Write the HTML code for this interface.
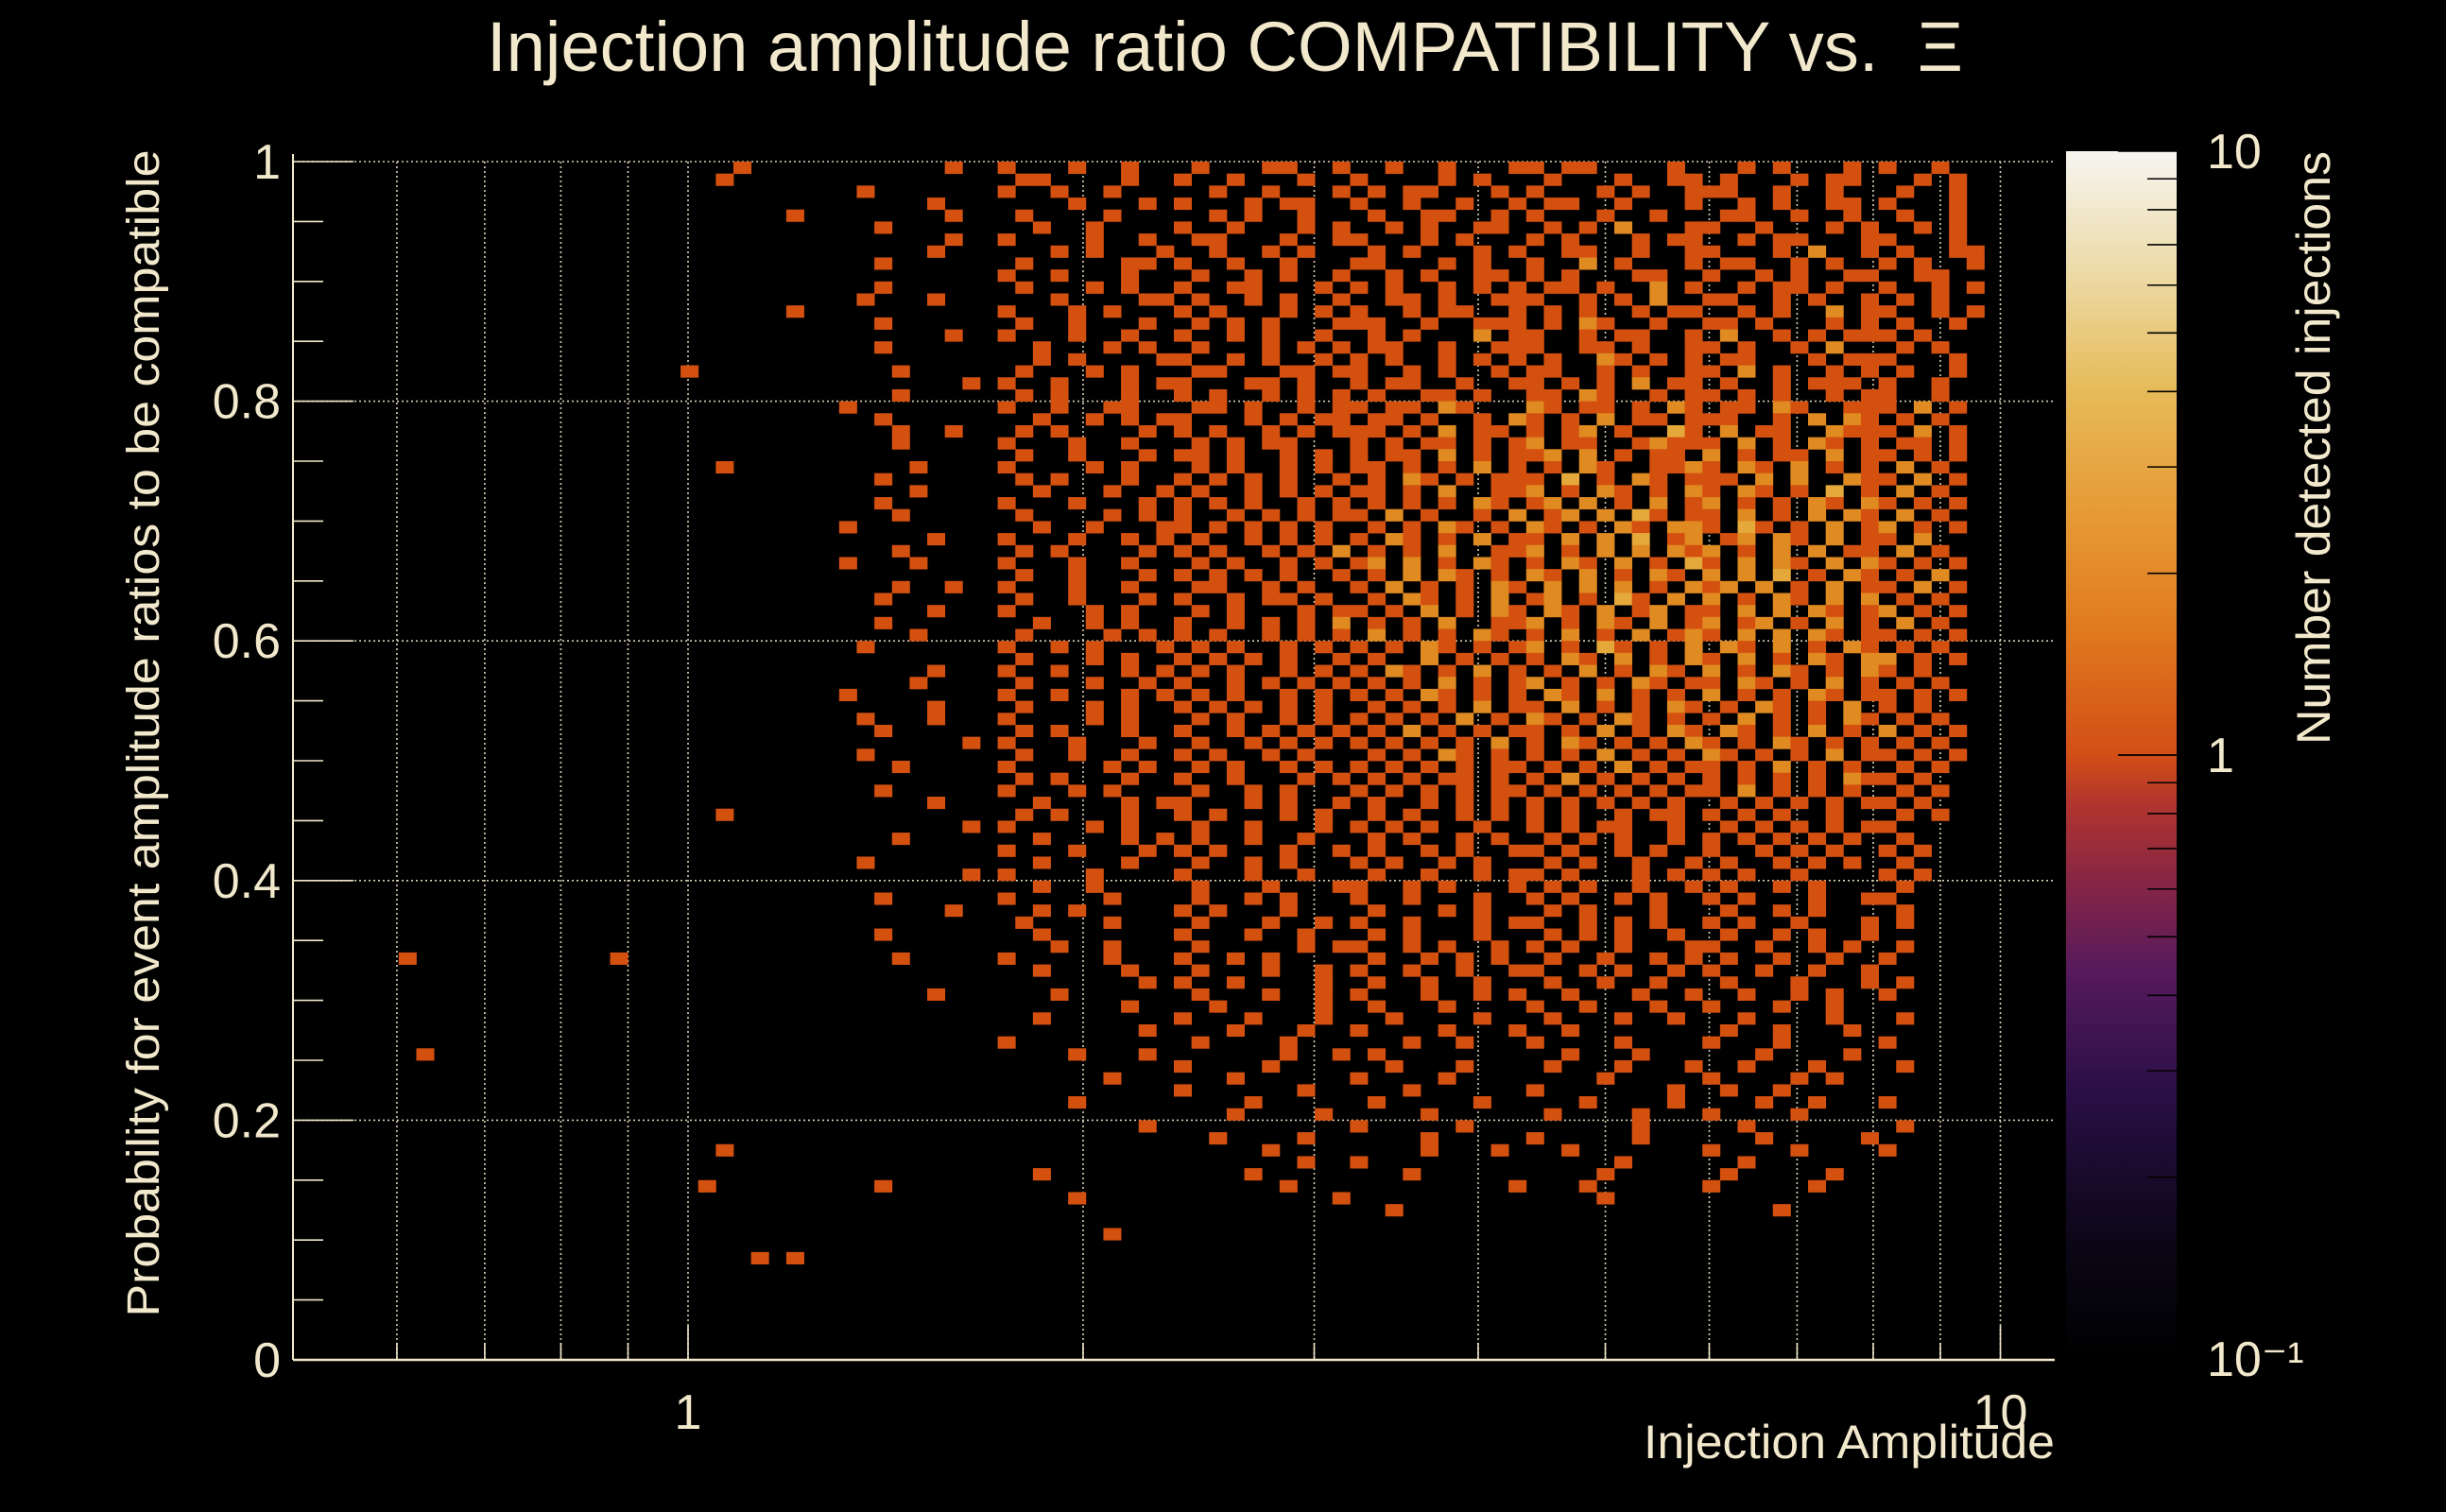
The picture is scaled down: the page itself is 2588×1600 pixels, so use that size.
<!DOCTYPE html>
<html><head><meta charset="utf-8">
<style>
html,body{margin:0;padding:0;background:#000;}
svg{display:block;}
text{font-family:"Liberation Sans",sans-serif;fill:#f2e8cc;}
</style></head>
<body>
<svg id="chart" width="2588" height="1600" viewBox="0 0 2588 1600" xmlns="http://www.w3.org/2000/svg">
<defs>
<linearGradient id="cmap" x1="0" y1="1" x2="0" y2="0">
<stop offset="0" stop-color="#000000"/>
<stop offset="0.1" stop-color="#0c0718"/>
<stop offset="0.22" stop-color="#2a0f46"/>
<stop offset="0.32" stop-color="#561a5c"/>
<stop offset="0.4" stop-color="#8a2643"/>
<stop offset="0.46" stop-color="#b2352e"/>
<stop offset="0.5" stop-color="#d24e16"/>
<stop offset="0.6" stop-color="#e0781e"/>
<stop offset="0.7" stop-color="#e69a35"/>
<stop offset="0.8" stop-color="#e6ba58"/>
<stop offset="0.9" stop-color="#ecdba6"/>
<stop offset="1" stop-color="#f6f5f0"/>
</linearGradient>
</defs>
<g id="grid"></g>
<g id="cells"></g>
<g id="axes"></g>
<text x="515" y="75" font-size="74" textLength="1562" lengthAdjust="spacingAndGlyphs">Injection amplitude ratio COMPATIBILITY vs.&#160; Ξ</text>
<text transform="translate(168,776) rotate(-90)" text-anchor="middle" font-size="48" textLength="1235" lengthAdjust="spacingAndGlyphs">Probability for event amplitude ratios to be compatible</text>
<text x="2174" y="1543" text-anchor="end" font-size="50" textLength="435" lengthAdjust="spacingAndGlyphs">Injection Amplitude</text>
<rect x="2186" y="160" width="117" height="1278" fill="url(#cmap)"/>
<g id="cbar"></g>
<text transform="translate(2465,160) rotate(-90)" text-anchor="end" font-size="50" textLength="628" lengthAdjust="spacingAndGlyphs">Number detected injections</text>
</svg>
<script>
// ---- data ----
const yTickValues = [0, 0.2, 0.4, 0.6, 0.8, 1];
const yTickLabels = ["0", "0.2", "0.4", "0.6", "0.8", "1"];
const xTickValues = [1, 10];
const xTickLabels = ["1", "10"];
const xGridValues = [0.6,0.7,0.8,0.9,1,2,3,4,5,6,7,8,9,10];
const xRange = [0.5, 11];
const yRange = [0, 1];
const nBinsX = 100;
const nBinsY = 100;
const countColors = ["#000000","#d4500f","#e08a22","#e5a83a","#e3bf62","#eedb9c"];
// rows listed from top (y 0.99-1.00) to bottom; '.'=0, digit=count; spaces ignored
const binRows = [
".......... .......... .....1.... .......1.. 1...1..1.. .1...11..1 ..1..1...1 1.11....1. ..1.1...1. 1..1......",
".......... .......... ....1..... .......... .11....1.. 1..1...1.. 1....1.1.. .1...1..11 .1...1.11. ..1.1.....",
".......... .......... .......... ..1....... 1..1..1... ..1..1...1 .1.11...1. 1...1.1..1 11..1..1.. .1..1.....",
".......... .......... .......... ......1... ....1...1. 1...1.11.. 1..1..1..1 .11..1...1 ..1.1..11. 1...1.....",
".......... .......... ........1. .......1.. .1....1... ..1.1..1.. .1..11..1. 1...1..1.. .11..1..1. .1..1.....",
".......... .......... .......... ...1...... ..1..1.... 1..1...1.1 ..1.1..11. .1.1.2...1 1..1...1.1 ..1.1.....",
".......... .......... .......... .......1.. 1....1..1. .11...1..1 1...1.1... 1.1...1.11 ..1.11...1 1...1.....",
".......... .......... .......... ......1... ...1.1...1 ..1..1.1.. .1.1...1.1 ..11..1..1 1...1.2..1 .1..11....",
".......... .......... .......... ...1...... .1.....11. 1..1..1... 11...1.1.. 1..2.1...1 .11..1.1.. 1.1..1....",
".......... .......... .......... .......... 1..1...1.. .1..1.1..1 ..1.1..11. 1.1...11.. 1..1.1..11 ..11......",
".......... .......... .......... ...1...... .1...1.1.. 1..11...1. 1.1..1.1.1 .11.1..2.1 ..1.11.1.. 1..1.1....",
".......... .......... .......... ..1...1... ...1....11 .1..1.1..1 ..11.1..11 1..1.1.2.. 11..1.1..1 .1.1......",
".......... .......... ........1. .......... 1...1.1... 1.1...1.1. 1..1.11..1 .1.1..1.11 ..1.1..2.1 1..1.1....",
".......... .......... .......... ...1...... .1..1...1. .1.1.1...1 11..1..111 .1.21..1.. 11.1...1.1 .1..1.....",
".......... .......... .......... .......1.. 1...1..1.. 1..1.1..1. .1.1...2.1 1..1.11..1 .2..1.1.11 1.1.......",
".......... .......... .......... ...1...... ..1...1.1. .1...1.1.1 .11..1..11 1..11.1..1 1.1..1.2.. .1.1......",
".......... .......... .......... .......... ..1.1....1 1..1.1..1. 1.1..1.1.1 .1..21.1.1 .11...1.11 1...1.....",
".......... .......... ..1....... ....1..... .1...1.1.. .11...11.1 1..1.1..1. 11..1.1..1 1.2.1..1.1 .1..1.....",
".......... .......... .......... ........1. 1..1...1.1 1...11.1.. 1.11..1..1 1.1.1.2.11 .1..1.111. 1..1......",
".......... .......... .......... ....1..... .1.1...1.. 1.1..1.1.1 .1..11.1.. 11.21..1.1 1.1.1..1.1 1..1......",
".......... .......... .......... .1........ 1..1..11.. .11.1..1.1 1.11.21... 21.11.1.21 .11.21..11 1.2.1.....",
".......... .......... .......... ...1...... ..1..1.1.1 1...1.1.11 .11.1..1.2 1.1.2.11.1 11..1.2.21 .1.1......",
".......... .......... .......... ....1..1.. .1.1....1. 1.1..1.1.1 11.1.2.11. 1.12.1..31 .2.11..211 1.2.1.....",
".......... .......... .......... ....1..... 1...1..1.. .1.1.11... 1.1.11.1.1 2.11..1211 1.2.1.21.1 .11.1.....",
".......... .......... .......... .......... .1..1...1. 11.1..1.1. 1.11.2.1.1 12.2.1.11. 2.1.11.2.1 1.1.1.....",
".......... .......... ....1..... .....1.... 1....1.1.. .1.1..1.1. 11.1.1.2.1 .1.21..112 1.21.2.1.1 .2.1......",
".......... .......... .......... ...1...... .1.1...1.. 1.1.1.1..1 .1.21.1.11 1.3.1.21.1 11.2.2..21 1.2.1.....",
".......... .......... .......... .....1.... ..1...1..1 .1..1.1.1. 11.1.2..11 2.1.21.1.2 1.21.1.3.1 .2.1......",
".......... .......... .......... ...1...... 1...1...1. 1.1.1..1.1 .1.1.1.21. 12.2.1.2.1 2.1.1.21.2 1.1.1.....",
".......... .......... .......... ....1..... .1....1.1. 1..1.1.1.1 1.2.1..1.2 .12.2.31.1 1.2.1.2.21 .2.1......",
".......... .......... .......... .1........ ..1..1...1 1.1.1.1.1. .1.1.21.1. 21.1.21.22 1.31.1.2.1 2.1.1.....",
".......... .......... .......... ......1... 1...1..1.1 .1..1.1.1. 1.21.1.2.1 1.2.2.3.12 .12.21.2.1 1.2.......",
".......... .......... .......... ....1..... .1.1....1. 1.1..1.1.2 .1.1.2..11 2.1.2.2.21 2.1.2.2.11 .2.1......",
".......... .......... .......... .1...1.... 1...1..1.. .1.1..1.1. 12.2.1.21. 1.21.2.1.3 1.2.21.2.2 1.1.1.....",
".......... .......... .......... .......... .1..1...1. 1.1.1.1..1 .1.2.21.1. 21.2.1.21. 2.2.3.1.21 .1.2......",
".......... .......... .......... ....1..1.. 1...1..1.. .11..1.1.. 1.2.1.1.21 .2.2.2.1.2 12.2.1.2.1 1.2.1.....",
".......... .......... .......... ...1...... .1..1...1. 1..1.11.1. .1.21.1.2. 12.1.31.2. 2.1.21.2.2 .1.1......",
".......... .......... .......... ......1... 1....1.1.. .1.1...1.1 1.1.2.1.21 .21.2.12.1 1.2.2.21.1 2.1.1.....",
".......... .......... .......... ...1...... ..1..1.1.. 1..1.1.1.2 .1.1.2..11 2.1.21.2.1 2.12.1.2.1 .2.1......",
".......... .......... .......... .....1.... .1....1.1. 1.1..1.1.1 .2.1.1.21. 1.2.1.2.12 1.2.2.21.1 1.1.1.....",
".......... .......... .......... ..1....... 1..1.1...1 .1.1..1.1. 1.1.21.1.1 2.1.31.1.2 .21.2.1.21 .1.1......",
".......... .......... .......... .......... .1...1.1.. 1.1.1.1..1 .1..2.1.1. 1.21.2.1.2 1.2.1.21.2 2.1.1.....",
".......... .......... .......... ......1... 1..1...1.1 .1.1..1.1. 1.21.1.2.1 .1.2.1.21. 2.1.21.1.2 1.1.......",
".......... .......... .......... .....1.... .1...1..1. 1..1.1.1.1 .1.1.2.1.1 2.1.1.21.1 1.21.1.2.1 .1.1......",
".......... .......... .......... .1........ 1..1...1.1 .1.1..1.1. 1.1.21.1.1 .21.2.1.1. 2.1.1.21.1 1.1.1.....",
".......... .......... .......... ......1... .1...1.1.. 1.1.1.1.1. .1.1.1.2.1 1.2.1.1.21 .1.21.1.2. 1.1.......",
".......... .......... .......... ..1...1... 1....1.1.. .1.1..1.1. 1.1.1.2.1. 21.1.21.1. 1.2.1.1.21 .1.1......",
".......... .......... .......... ...1...... .1.1...1.. 1..1.1.1.1 .1.2.1.1.1 1.1.2.1.21 .21.1.2.1. 2.1.1.....",
".......... .......... .......... ........1. 1...1...1. .1..1.1.1. 1.1.1.1.2. 1.21.1.1.2 1.1.21.1.1 .1.1......",
".......... .......... .......... ..1....... .1..1..1.. 1.1..1.1.. .1.1.21.1. 1.1.2.1.1. 21.1.1.2.1 1.1.1.....",
".......... .......... .......... ....1..... 1.....1.1. .1.1..1.1. 1.1.1.1.11 .1.1.2.1.1 1.1.2.1.1. .1.1......",
".......... .......... .......... .......... .1.1...1.. 1..1...1.1 .1.1.11.1. 1.2.1.1.1. 1.1.1.1.21 1.1.......",
".......... .......... .......... ...1...... 1...1.1... .1..1.1... 1.1.1.1.11 .1.1.1.1.1 1.2.1.1.1. .1.1......",
".......... .......... .......... ......1... ..1....1.1 1...1.1..1 .1..1.1.1. 1.1.1.1.1. .1.1.1.1.1 1.1.......",
".......... .......... ....1..... .......... .1.1...1.. 1.1...1.1. .1.1..1.1. 1.1..1.11. 1.1.1..1.. .1.1......",
".......... .......... .......... ........1. 1....1.1.. .1..1...1. 1.1.1..1.. 1.1.11..1. .1.1.1.1.1 1.........",
".......... .......... .......... ....1..... ..1....1.1 .1..1..1.. .1.1..1.1. .1.1.1..1. 1.1.1.1.1. .1........",
".......... .......... .......... .......... 1...1...1. 1.1...1..1 .1..1.1..1 1.1..1.1.. 1..1.1.1.. 1.1.......",
".......... .......... .......... ..1....... ..1....1.. .1..1.1... 1.1..1.1.. .1.1..1..1 .1..1.1.1. .1........",
".......... .......... .......... ........1. 1....1.... 1...1..1.. .1..1..1.1 1.1...1.1. 1.1..1.... 1.1.......",
".......... .......... .......... .......... ..1..1.... .1...1...1 1..1.1...1 .1.1..1..1 .1..1.1... .1........",
".......... .......... .......... ...1...... 1.....1... .1..1.1... 1..1...1.. 1.1..1.1.. 1.1...1..1 1.........",
".......... .......... .......... .......1.. ..1.1..... 1.1...1... .1...1.1.. .1.1...1.. .1..1.1... .1........",
".......... .......... .......... .......... .1....1... .1...1..1. 1..1...1.1 1..1.1.1.. 1.1..1...1 .1........",
".......... .......... .......... ...1...... ..1....... 1...1..1.. .1.1...1.. .1.1.1..1. .1..1.1..1 ..........",
".......... .......... .......... .......... ...1..1... .1.....1.1 1..1.1..1. 1.1..1...1 1..1..1.1. .1........",
"......1... ........1. .......... ....1..... 1.....1... 1..1.1.... .1..1.1.1. .1..1..1.1 .1..1..1.. 1.........",
".......... .......... .......... .......... ..1....1.. .1...1..1. 1..1..1..1 1..1.1..1. 1..1..1..1 ..........",
".......... .......... .......... .......... ........1. 1..1....1. .1..1..1.. .1..1..1.. .1...1...1 .1........",
".......... .......... .......... ......1... ...1...... .1...1..1. 1...1..1.1 ..1...1..1 ..1..1.1.. 1.........",
".......... .......... .......... .......... .......1.. ..1.....1. .1...1.... 1..1...1.. 1...1..1.. ..........",
".......... .......... .......... .......... ..1....... 1...1...1. ..1....1.. .1...1..1. ..1....1.. .1........",
".......... .......... .......... .......... ........1. ...1...1.. 1....1...1 ..1....... .1..1...1. ..........",
".......... .......... .......... .......... 1......... .1....1... ...1..1... 1....1.... 1...1..... 1.........",
".......1.. .......... .......... .......... ....1...1. ......1..1 .1........ ..1...1... ...1....1. ..........",
".......... .......... .......... .......... .......... 1....1.... ..1...1... .1...1...1 ..1...1... .1........",
".......... .......... .......... .......... ......1... ...1...... 1....1.... ....1..... 1....1.1.. ..........",
".......... .......... .......... .......... .......... 1......1.. ...1...... 1.......1. .1..1..... ..........",
".......... .......... .......... .......... ....1..... ....1..... .1.....1.. ...1....1. ...1..1... 1.........",
".......... .......... .......... .......... .......... ...1....1. ....1..... .1....1... 1....1.... ..........",
".......... .......... .......... .......... ........1. .......... 1.....1... ......1... ..1....... .1........",
".......... .......... .......... .......... .......... ..1....1.. ....1..... 1.....1... ...1.....1 ..........",
".......... .......... ....1..... .......... .......... .....1.... ....1...1. ..1....... 1....1.... 1.........",
".......... .......... .......... .......... .......... .......1.. 1......... .....1.... ..1....... ..........",
".......... .......... .......... .......... ..1....... ....1..... ...1...... ....1..... .1.....1.. ..........",
".......... .......... ...1...... ...1...... .......... ......1... .........1 ...1...... 1.....1... ..........",
".......... .......... .......... .......... ....1..... .........1 .......... ....1..... .......... ..........",
".......... .......... .......... .......... .......... .......... ..1....... .......... ....1..... ..........",
".......... .......... .......... .......... .......... .......... .......... .......... .......... ..........",
".......... .......... .......... .......... ......1... .......... .......... .......... .......... ..........",
".......... .......... .......... .......... .......... .......... .......... .......... .......... ..........",
".......... .......... ......1.1. .......... .......... .......... .......... .......... .......... .........."
];
const cbarMajorValues = [0.1, 1, 10];
const cbarMajorLabels = ["10⁻¹", "1", "10"];

// ---- layout & scales ----
const L = 310, R = 2174, T = 171, B = 1439;
const NS = "http://www.w3.org/2000/svg";
const lx0 = Math.log10(xRange[0]), lx1 = Math.log10(xRange[1]);
function xScale(v){ return L + (Math.log10(v) - lx0) / (lx1 - lx0) * (R - L); }
function yScale(v){ return B - (v - yRange[0]) / (yRange[1] - yRange[0]) * (B - T); }
function xEdge(i){ return Math.pow(10, lx0 + (lx1 - lx0) * i / nBinsX); }
function yEdge(j){ return yRange[0] + (yRange[1] - yRange[0]) * j / nBinsY; }
const cb = {x:2186, w:117, top:160, bot:1438};
function cScale(v){ return cb.bot - (Math.log10(v) + 1) / 2 * (cb.bot - cb.top); }
function mk(tag, attrs, parent){ const e = document.createElementNS(NS, tag); for (const k in attrs) e.setAttribute(k, attrs[k]); parent.appendChild(e); return e; }

const gGrid = document.getElementById('grid');
const gCells = document.getElementById('cells');
const gAxes = document.getElementById('axes');
const gCbar = document.getElementById('cbar');
const gridStyle = {stroke:"#d8d0b4", "stroke-width":1.6, "stroke-dasharray":"2 3"};

xGridValues.forEach(v => {
  const x = xScale(v);
  const ln = mk('line', Object.assign({x1:x, x2:x, y1:T, y2:B}, gridStyle), gGrid);
  
  
});
yTickValues.forEach(v => {
  const y = yScale(v);
  const ln = mk('line', Object.assign({x1:L, x2:R, y1:y, y2:y}, gridStyle), gGrid);
  
  
});

// cells
binRows.forEach((row, r) => {
  const s = row.replace(/ /g, '');
  const j = nBinsY - 1 - r;
  for (let i = 0; i < Math.min(s.length, nBinsX); i++) {
    const c = s[i];
    if (c === '.') continue;
    const n = parseInt(c, 10);
    if (!n) continue;
    const x0 = xScale(xEdge(i)), x1 = xScale(xEdge(i + 1));
    const y0 = yScale(yEdge(j + 1)), y1 = yScale(yEdge(j));
    const rc = mk('rect', {x:x0, y:y0, width:x1 - x0 + 0.4, height:y1 - y0 + 0.4, fill:countColors[Math.min(n, countColors.length - 1)]}, gCells);
    
    
  }
});

// axes frame
const axCol = "#f2e8cc";
const ya = mk('line', {x1:L, x2:L, y1:T - 8, y2:B, stroke:axCol, "stroke-width":2}, gAxes);


const xa = mk('line', {x1:L, x2:R, y1:B, y2:B, stroke:axCol, "stroke-width":2.5}, gAxes);



// y ticks
for (let k = 0; k <= 20; k++) {
  const v = k * 0.05, y = yScale(v);
  const major = (k % 4 === 0);
  const t = mk('line', {x1:L, x2:L + (major ? 64 : 32), y1:y, y2:y, stroke:axCol, "stroke-width":1.6}, gAxes);
  
  
}
yTickValues.forEach((v, k) => {
  const t = mk('text', {x:297, y:yScale(v) + 18, "text-anchor":"end", "font-size":52}, gAxes);
  t.textContent = yTickLabels[k];
  
  
});
// x ticks
xGridValues.forEach(v => {
  const major = xTickValues.indexOf(v) >= 0;
  const x = xScale(v);
  const t = mk('line', {x1:x, x2:x, y1:B, y2:B - (major ? 36 : 18), stroke:axCol, "stroke-width":1.6}, gAxes);
  
  
});
xTickValues.forEach((v, k) => {
  const t = mk('text', {x:xScale(v), y:1512, "text-anchor":"middle", "font-size":52}, gAxes);
  t.textContent = xTickLabels[k];
  
  
});

// colorbar ticks
[0.1, 1].forEach(dec => {
  for (let m = 1; m <= 10; m++) {
    const v = dec * m, y = cScale(v);
    const len = (m === 1 || m === 10) ? 62 : 31;
    const t = mk('line', {x1:cb.x + cb.w - len, x2:cb.x + cb.w, y1:y, y2:y, stroke:"#000", "stroke-width":1.6}, gCbar);
    
    
  }
});
cbarMajorValues.forEach((v, k) => {
  const t = mk('text', {x:2335, y:cScale(v) + 18, "font-size":52}, gCbar);
  t.textContent = cbarMajorLabels[k];
  
  
});
</script>
</body></html>
